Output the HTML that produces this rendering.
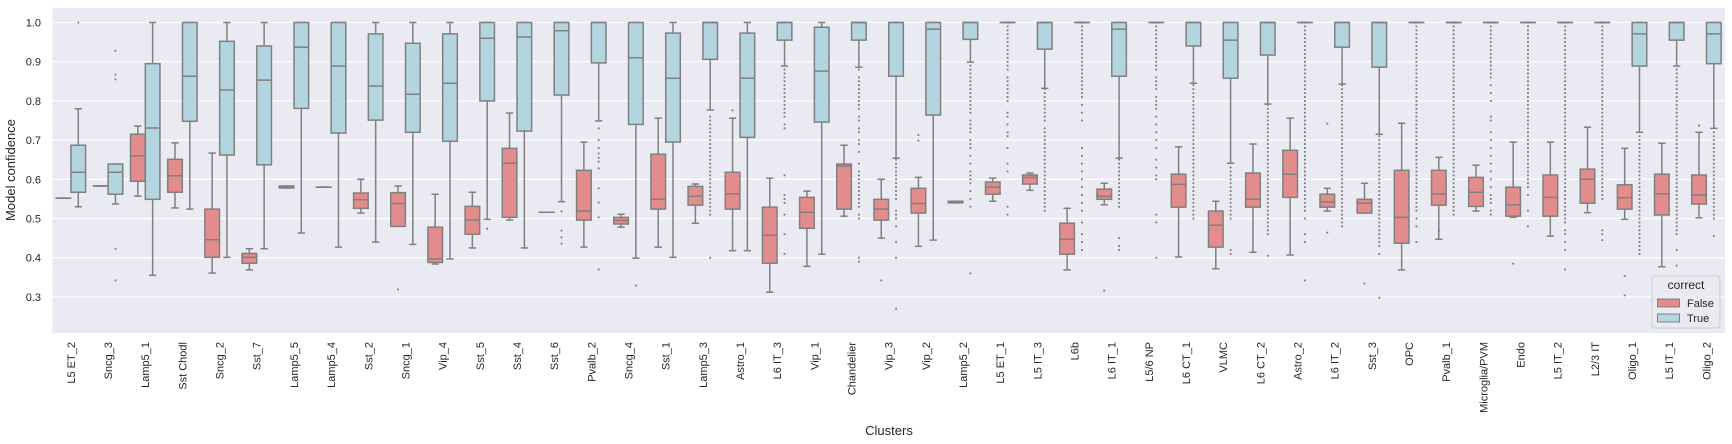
<!DOCTYPE html>
<html><head><meta charset="utf-8"><style>
html,body{margin:0;padding:0;background:#fff;}
svg{display:block;font-family:"Liberation Sans","DejaVu Sans",sans-serif;}
</style></head><body>
<svg id="chart" width="1732" height="444" viewBox="0 0 1732 444">
<rect x="52.3" y="8" width="1672.7" height="325" fill="#eaeaf2"/>
<g id="grid"></g>
<g id="yticks"></g>
<g id="boxes"></g>
<g id="xticks"></g>
<text x="15" y="170" transform="rotate(-90 15 170)" text-anchor="middle" font-size="13" fill="#262626">Model confidence</text>
<text x="889" y="435" text-anchor="middle" font-size="13" fill="#262626">Clusters</text>
<g>
<rect x="1652" y="276" width="68" height="52" rx="3" fill="#eaeaf2" fill-opacity="0.8" stroke="#cccccc"/>
<text x="1686" y="289" text-anchor="middle" font-size="12" fill="#262626">correct</text>
<rect x="1657.5" y="299" width="22" height="8" fill="#e38c8c" stroke="#808080"/>
<text x="1687" y="307" font-size="11" fill="#262626">False</text>
<rect x="1657.5" y="314" width="22" height="8" fill="#b3d5df" stroke="#808080"/>
<text x="1687" y="322" font-size="11" fill="#262626">True</text>
</g>
</svg>
<script>
const categories = ["L5 ET_2","Sncg_3","Lamp5_1","Sst Chodl","Sncg_2","Sst_7","Lamp5_5","Lamp5_4","Sst_2","Sncg_1","Vip_4","Sst_5","Sst_4","Sst_6","Pvalb_2","Sncg_4","Sst_1","Lamp5_3","Astro_1","L6 IT_3","Vip_1","Chandelier","Vip_3","Vip_2","Lamp5_2","L5 ET_1","L5 IT_3","L6b","L6 IT_1","L5/6 NP","L6 CT_1","VLMC","L6 CT_2","Astro_2","L6 IT_2","Sst_3","OPC","Pvalb_1","Microglia/PVM","Endo","L5 IT_2","L2/3 IT","Oligo_1","L5 IT_1","Oligo_2"];
// [whisker low, q1, median, q3, whisker high]
const falseStats = [
[0.552,0.552,0.552,0.552,0.552],[0.583,0.583,0.583,0.583,0.583],[0.557,0.595,0.660,0.715,0.736],[0.527,0.567,0.609,0.651,0.693],
[0.361,0.401,0.446,0.524,0.667],[0.369,0.386,0.401,0.411,0.423],[0.578,0.578,0.581,0.583,0.583],[0.580,0.580,0.580,0.580,0.580],
[0.514,0.526,0.548,0.565,0.600],[0.480,0.480,0.538,0.566,0.583],[0.384,0.388,0.397,0.478,0.562],[0.425,0.460,0.496,0.531,0.567],
[0.496,0.503,0.641,0.679,0.769],[0.516,0.516,0.516,0.516,0.516],[0.427,0.496,0.519,0.623,0.695],[0.478,0.486,0.495,0.503,0.511],
[0.427,0.524,0.549,0.664,0.756],[0.488,0.534,0.557,0.582,0.588],[0.418,0.524,0.563,0.618,0.756],[0.312,0.386,0.457,0.529,0.603],
[0.378,0.475,0.516,0.554,0.570],[0.506,0.524,0.634,0.639,0.687],[0.450,0.496,0.524,0.549,0.600],[0.429,0.514,0.538,0.577,0.605],
[0.540,0.540,0.542,0.544,0.544],[0.544,0.562,0.580,0.593,0.603],[0.572,0.588,0.605,0.611,0.616],[0.369,0.409,0.447,0.488,0.526],
[0.535,0.549,0.557,0.575,0.590],null,[0.402,0.529,0.587,0.613,0.683],[0.372,0.427,0.483,0.519,0.544],
[0.414,0.529,0.549,0.616,0.690],[0.407,0.554,0.613,0.674,0.756],[0.519,0.529,0.542,0.562,0.577],[0.514,0.514,0.539,0.549,0.590],
[0.369,0.437,0.503,0.623,0.743],[0.447,0.534,0.563,0.623,0.656],[0.519,0.531,0.567,0.605,0.636],[0.503,0.506,0.535,0.580,0.695],
[0.455,0.506,0.554,0.611,0.695],[0.515,0.539,0.600,0.626,0.733],[0.498,0.524,0.553,0.586,0.679],[0.377,0.509,0.563,0.613,0.692],
[0.502,0.537,0.560,0.611,0.720]];
const trueStats = [
[0.530,0.567,0.618,0.687,0.780],[0.537,0.562,0.618,0.639,0.639],[0.355,0.549,0.731,0.895,1],[0.524,0.748,0.863,1,1],
[0.401,0.662,0.828,0.952,1],[0.423,0.637,0.853,0.940,1],[0.463,0.781,0.937,1,1],[0.427,0.718,0.889,1,1],
[0.440,0.751,0.838,0.971,1],[0.434,0.720,0.817,0.947,1],[0.397,0.697,0.845,0.971,1],[0.498,0.800,0.960,1,1],
[0.425,0.723,0.963,1,1],[0.543,0.815,0.979,1,1],[0.749,0.897,1,1,1],[0.399,0.740,0.910,1,1],
[0.401,0.695,0.858,0.973,1],[0.777,0.906,1,1,1],[0.418,0.707,0.858,0.973,1],[0.889,0.955,1,1,1],
[0.409,0.746,0.876,0.988,1],[0.886,0.955,1,1,1],[0.654,0.863,1,1,1],[0.445,0.764,0.983,1,1],
[0.899,0.957,1,1,1],[1,1,1,1,1],[0.832,0.932,1,1,1],[1,1,1,1,1],
[0.654,0.863,0.983,1,1],[1,1,1,1,1],[0.845,0.940,1,1,1],[0.641,0.858,0.955,1,1],
[0.792,0.917,1,1,1],[1,1,1,1,1],[0.843,0.937,1,1,1],[0.715,0.886,1,1,1],
[1,1,1,1,1],[1,1,1,1,1],[1,1,1,1,1],[1,1,1,1,1],
[1,1,1,1,1],[1,1,1,1,1],[0.720,0.889,0.971,1,1],[0.889,0.955,1,1,1],
[0.730,0.895,0.971,1,1]];
const falseOut = {1:[],9:[0.319],11:[],18:[0.776],22:[0.342],23:[0.713,0.699],28:[0.316],34:[0.742,0.464],35:[0.334],37:[0.469],39:[0.385],42:[0.353,0.304],44:[0.737]};
const trueOut = {
0:[1.0],1:[0.928,0.867,0.855,0.423,0.342],11:[0.474],13:[0.518,0.469,0.452,0.436],
14:[0.73,0.70,0.68,0.666,0.655,0.645,0.628,0.577,0.541,0.503,0.37],15:[0.329],
17:[0.76,0.75,0.74,0.73,0.72,0.71,0.70,0.69,0.68,0.67,0.66,0.65,0.64,0.63,0.62,0.61,0.60,0.59,0.58,0.57,0.56,0.55,0.54,0.53,0.52,0.51,0.40],
19:[0.88,0.87,0.86,0.85,0.84,0.83,0.82,0.81,0.80,0.79,0.78,0.77,0.76,0.74,0.73,0.61,0.56,0.55,0.54,0.51,0.46,0.41],
21:[0.88,0.86,0.85,0.84,0.83,0.82,0.81,0.80,0.79,0.78,0.76,0.75,0.73,0.72,0.70,0.69,0.67,0.64,0.62,0.61,0.60,0.59,0.58,0.57,0.56,0.55,0.54,0.53,0.51,0.50,0.40,0.39],
22:[0.65,0.64,0.63,0.62,0.61,0.60,0.59,0.58,0.57,0.56,0.55,0.52,0.51,0.50,0.48,0.44,0.40,0.27],
24:[0.89,0.88,0.87,0.86,0.85,0.84,0.83,0.82,0.81,0.80,0.79,0.78,0.77,0.75,0.74,0.73,0.72,0.70,0.69,0.68,0.66,0.64,0.62,0.61,0.60,0.59,0.57,0.55,0.53,0.36],
25:[0.99,0.98,0.97,0.96,0.95,0.94,0.93,0.92,0.91,0.90,0.89,0.88,0.86,0.85,0.84,0.83,0.82,0.81,0.80,0.77,0.76,0.74,0.72,0.71,0.68,0.64,0.62,0.53,0.51],
26:[0.83,0.82,0.81,0.80,0.79,0.78,0.77,0.76,0.75,0.73,0.72,0.71,0.70,0.69,0.68,0.67,0.66,0.65,0.64,0.63,0.62,0.61,0.60,0.59,0.58,0.57,0.56,0.55,0.54,0.53,0.52],
27:[0.99,0.98,0.97,0.96,0.95,0.94,0.93,0.92,0.91,0.90,0.89,0.88,0.87,0.86,0.85,0.84,0.83,0.82,0.81,0.79,0.77,0.75,0.68,0.66,0.64,0.62,0.60,0.58,0.56,0.54,0.52,0.49,0.46,0.44,0.42],
28:[0.65,0.64,0.63,0.62,0.61,0.60,0.59,0.58,0.57,0.56,0.55,0.54,0.53,0.45,0.43,0.42],
29:[0.99,0.98,0.97,0.96,0.95,0.94,0.93,0.92,0.91,0.90,0.89,0.88,0.86,0.85,0.84,0.83,0.81,0.80,0.79,0.78,0.76,0.74,0.72,0.70,0.68,0.65,0.63,0.61,0.60,0.51,0.49,0.40],
30:[0.84,0.83,0.82,0.81,0.80,0.79,0.78,0.77,0.76,0.75,0.74,0.73,0.72,0.71,0.70,0.69,0.68,0.67,0.66,0.65,0.64,0.63,0.62,0.61,0.60,0.59,0.58,0.57,0.56,0.55,0.54,0.53,0.52,0.51,0.50],
31:[0.63,0.62,0.61,0.60,0.59,0.58,0.57,0.56,0.55,0.54,0.53,0.52,0.51,0.50,0.42,0.41],
32:[0.79,0.78,0.77,0.76,0.75,0.74,0.73,0.72,0.71,0.70,0.69,0.68,0.67,0.66,0.65,0.64,0.63,0.62,0.61,0.60,0.59,0.58,0.57,0.56,0.55,0.54,0.53,0.52,0.51,0.50,0.49,0.48,0.47,0.46,0.405],
33:[0.99,0.98,0.97,0.96,0.95,0.94,0.93,0.92,0.91,0.90,0.89,0.88,0.87,0.86,0.85,0.84,0.83,0.82,0.81,0.80,0.79,0.78,0.77,0.76,0.75,0.74,0.73,0.72,0.71,0.70,0.69,0.68,0.67,0.66,0.65,0.64,0.63,0.62,0.61,0.60,0.59,0.58,0.57,0.56,0.55,0.54,0.53,0.52,0.50,0.46,0.44,0.342],
34:[0.84,0.83,0.82,0.81,0.80,0.79,0.78,0.77,0.76,0.75,0.74,0.73,0.72,0.71,0.70,0.69,0.68,0.67,0.66,0.65,0.64,0.63,0.62,0.61,0.60,0.59,0.58,0.57,0.56,0.55,0.54,0.53,0.52,0.51,0.50,0.49,0.48],
35:[0.71,0.70,0.69,0.68,0.67,0.66,0.65,0.64,0.63,0.62,0.61,0.60,0.59,0.58,0.57,0.56,0.55,0.54,0.53,0.52,0.51,0.50,0.49,0.48,0.47,0.46,0.45,0.44,0.43,0.41,0.298],
36:[0.99,0.98,0.97,0.96,0.95,0.94,0.93,0.92,0.91,0.90,0.89,0.88,0.87,0.86,0.85,0.84,0.83,0.82,0.81,0.80,0.79,0.78,0.77,0.76,0.75,0.74,0.73,0.72,0.71,0.70,0.69,0.68,0.67,0.66,0.65,0.64,0.63,0.62,0.61,0.60,0.59,0.58,0.57,0.56,0.55,0.54,0.53,0.52,0.50,0.48,0.44],
37:[0.99,0.98,0.97,0.96,0.95,0.94,0.93,0.92,0.91,0.90,0.89,0.88,0.87,0.86,0.85,0.84,0.83,0.82,0.81,0.80,0.79,0.78,0.77,0.76,0.75,0.74,0.73,0.72,0.71,0.70,0.69,0.68,0.67,0.66,0.65,0.64,0.63,0.62,0.61,0.60,0.59,0.58,0.57,0.56,0.55,0.54,0.53,0.52,0.51],
38:[0.99,0.98,0.97,0.96,0.95,0.94,0.93,0.92,0.91,0.90,0.89,0.88,0.87,0.86,0.84,0.82,0.80,0.76,0.75,0.72,0.70,0.68,0.66,0.64,0.62,0.60,0.58,0.56,0.55,0.54,0.52,0.51],
39:[0.99,0.98,0.97,0.96,0.95,0.94,0.93,0.92,0.91,0.90,0.89,0.88,0.87,0.86,0.85,0.84,0.83,0.82,0.81,0.80,0.79,0.78,0.77,0.76,0.75,0.74,0.73,0.72,0.71,0.70,0.69,0.68,0.67,0.66,0.65,0.64,0.63,0.62,0.61,0.60,0.59,0.58,0.56,0.52,0.48],
40:[0.99,0.98,0.97,0.96,0.95,0.94,0.93,0.92,0.91,0.90,0.89,0.88,0.87,0.86,0.85,0.84,0.83,0.82,0.81,0.80,0.79,0.78,0.77,0.76,0.75,0.74,0.73,0.72,0.71,0.70,0.69,0.68,0.67,0.66,0.65,0.64,0.63,0.62,0.61,0.60,0.59,0.58,0.57,0.56,0.55,0.54,0.53,0.52,0.51,0.50,0.49,0.47,0.46,0.44,0.42,0.37],
41:[0.99,0.98,0.97,0.96,0.95,0.94,0.93,0.92,0.91,0.90,0.89,0.88,0.87,0.86,0.85,0.84,0.83,0.82,0.81,0.80,0.79,0.78,0.77,0.76,0.75,0.74,0.73,0.72,0.71,0.70,0.69,0.68,0.67,0.66,0.65,0.64,0.63,0.62,0.61,0.60,0.59,0.58,0.57,0.56,0.55,0.47,0.46,0.445],
42:[0.71,0.70,0.69,0.68,0.67,0.66,0.65,0.64,0.63,0.62,0.61,0.60,0.59,0.58,0.57,0.56,0.55,0.54,0.53,0.52,0.51,0.50,0.49,0.48,0.47,0.46,0.45,0.44,0.43,0.42,0.41],
43:[0.88,0.87,0.86,0.85,0.84,0.83,0.82,0.81,0.80,0.79,0.78,0.77,0.76,0.75,0.74,0.73,0.72,0.71,0.70,0.69,0.68,0.67,0.66,0.65,0.64,0.63,0.62,0.61,0.60,0.59,0.58,0.57,0.56,0.55,0.54,0.53,0.52,0.51,0.50,0.49,0.48,0.47,0.46,0.42,0.38],
44:[0.72,0.71,0.70,0.69,0.68,0.67,0.66,0.65,0.64,0.63,0.62,0.61,0.60,0.59,0.58,0.57,0.56,0.55,0.54,0.53,0.52,0.51,0.50,0.455]};
const yTicks = [0.3,0.4,0.5,0.6,0.7,0.8,0.9,1.0];
const yTickLabels = ["0.3","0.4","0.5","0.6","0.7","0.8","0.9","1.0"];

const NS = "http://www.w3.org/2000/svg";
const PL = 52.3, PR = 1725, PT = 8, PB = 333;
const Y0 = 0.208, Y1 = 1.037;
function yScale(v){ return PB - (v - Y0) / (Y1 - Y0) * (PB - PT); }
const band = (PR - PL) / categories.length;
function xScale(i){ return PL + band * (i + 0.5); }
function mk(tag, attrs, parent){ const e = document.createElementNS(NS, tag); for (const k in attrs) e.setAttribute(k, attrs[k]); parent.appendChild(e); return e; }

const grid = document.getElementById('grid');
const yt = document.getElementById('yticks');
yTicks.forEach((t, i) => {
  const y = yScale(t);
  const gl = mk('line', {x1: PL, x2: PR, y1: y, y2: y, stroke: '#ffffff', 'stroke-width': 1.2}, grid);
  
  
  const tx = mk('text', {x: 41, y: y + 4, 'text-anchor': 'end', 'font-size': 11, fill: '#262626'}, yt);
  tx.textContent = yTickLabels[i];
  
  
});

const boxes = document.getElementById('boxes');
const xt = document.getElementById('xticks');
const BW = 14.6, GREY = '#808080';
function drawBox(i, s, off, fill, outs, hue){
  const cx = xScale(i) + off;
  const g = mk('g', {}, boxes);
  
  
  if (s) {
    const [lo, q1, md, q3, hi] = s;
    mk('line', {x1: cx, x2: cx, y1: yScale(hi), y2: yScale(q3), stroke: GREY, 'stroke-width': 1.5}, g);
    mk('line', {x1: cx, x2: cx, y1: yScale(q1), y2: yScale(lo), stroke: GREY, 'stroke-width': 1.5}, g);
    mk('line', {x1: cx - BW/4, x2: cx + BW/4, y1: yScale(hi), y2: yScale(hi), stroke: GREY, 'stroke-width': 1.5}, g);
    mk('line', {x1: cx - BW/4, x2: cx + BW/4, y1: yScale(lo), y2: yScale(lo), stroke: GREY, 'stroke-width': 1.5}, g);
    mk('rect', {x: cx - BW/2, y: yScale(q3), width: BW, height: Math.max(0.01, yScale(q1) - yScale(q3)), fill: fill, stroke: GREY, 'stroke-width': 1.5}, g);
    mk('line', {x1: cx - BW/2, x2: cx + BW/2, y1: yScale(md), y2: yScale(md), stroke: GREY, 'stroke-width': 1.5}, g);
  }
  (outs || []).forEach(v => {
    mk('rect', {x: cx - 0.9, y: yScale(v) - 0.9, width: 1.8, height: 1.8, fill: '#7a7a7a'}, g);
  });
}
categories.forEach((c, i) => {
  drawBox(i, falseStats[i], -7.4, '#e38c8c', falseOut[i], 'false');
  drawBox(i, trueStats[i], 7.4, '#b3d5df', trueOut[i], 'true');
  const x = xScale(i) + 4;
  const t = mk('text', {x: x, y: 342, transform: 'rotate(-90 ' + x + ' 342)', 'text-anchor': 'end', 'font-size': 11, fill: '#262626'}, xt);
  t.textContent = c;
  
  
});
</script>
</body></html>
